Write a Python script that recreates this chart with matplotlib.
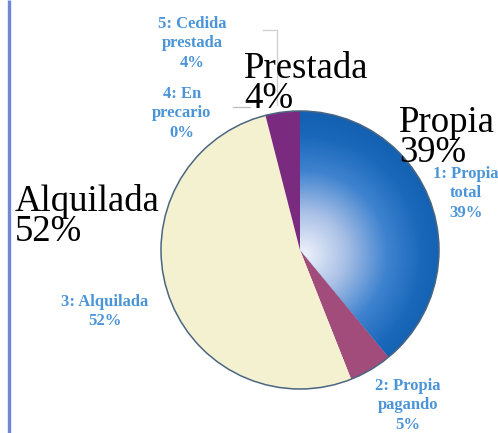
import numpy as np
import matplotlib
matplotlib.use("Agg")
import matplotlib.pyplot as plt
from matplotlib.colors import LinearSegmentedColormap
from matplotlib.patches import Circle

W, H = 498, 433

# slices, clockwise from 12 o'clock
slice_names = ["1: Propia\ntotal\n39%", "2: Propia\npagando\n5%", "3: Alquilada\n52%",
               "4: En\nprecario\n0%", "5: Cedida\nprestada\n4%"]
slice_values = [39, 5, 52, 0, 4]
slice_colors = ["#1766b8", "#a24c7b", "#f4f1d0", "#8a3a8a", "#7a2b80"]

# big overlay labels
big_labels = ["Propia\n39%", "Prestada\n4%", "Alquilada\n52%"]
big_pos = [(399, 162), (244, 108), (15, 241)]          # left x, last baseline (pixels from top)
small_pos = [(466, 166), (408, 378), (105, 294), (182, 86), (192, 16)]  # center x, top


def py(y):
    return H - y


fig = plt.figure(figsize=(W / 100, H / 100), dpi=100)
ax = fig.add_axes([0, 0, 1, 1])

cx, cy, R = 300, py(250), 139
wedges, _ = ax.pie(slice_values, colors=slice_colors, startangle=90, counterclock=False,
                   center=(cx, cy), radius=R, wedgeprops=dict(linewidth=0))

# radial highlight on the blue slice
cmap = LinearSegmentedColormap.from_list(
    "glow", [(0, "#eef2fb"), (0.3, "#a9c0e6"), (0.6, "#3f83cf"), (0.85, "#1a68ba"), (1, "#1461b2")])
xs = np.linspace(cx - R, cx + R, 300)
ys = np.linspace(cy - R, cy + R, 300)
gx, gy = np.meshgrid(xs, ys)
rr = np.clip(np.hypot(gx - cx - 4, gy - cy + 4) / R, 0, 1)
im = ax.imshow(rr, cmap=cmap, extent=(cx - R, cx + R, cy - R, cy + R), origin="lower",
               zorder=wedges[0].get_zorder() + 0.5, interpolation="bilinear")
im.set_clip_path(wedges[0])

ax.add_patch(Circle((cx, cy), R, fill=False, edgecolor="#4b6680", linewidth=1.1, zorder=5))

# faint leader lines
ax.plot([263, 277, 277], [py(30), py(30), py(105)], color="#cfcfcf", lw=0.9, zorder=1)
ax.plot([233, 250], [py(107), py(107)], color="#bdbdbd", lw=0.9, zorder=1)

# left border
ax.plot([9, 9], [0, H], color="#6f86d9", lw=2.4, solid_capstyle="butt")

for name, (x, y) in zip(slice_names, small_pos):
    ax.text(x, py(y), name, ha="center", va="top", fontsize=12,
            fontweight="bold", family="Liberation Serif", color="#4b94d8",
            linespacing=1.28, zorder=6)

for lab, (x, y) in zip(big_labels, big_pos):
    ax.text(x, py(y), lab, ha="left", va="baseline", fontsize=26.5,
            family="Liberation Serif", color="black", linespacing=0.83, zorder=7)

ax.set_xlim(0, W)
ax.set_ylim(0, H)
ax.set_aspect("equal")
ax.axis("off")

fig.savefig("out.png", dpi=100)
